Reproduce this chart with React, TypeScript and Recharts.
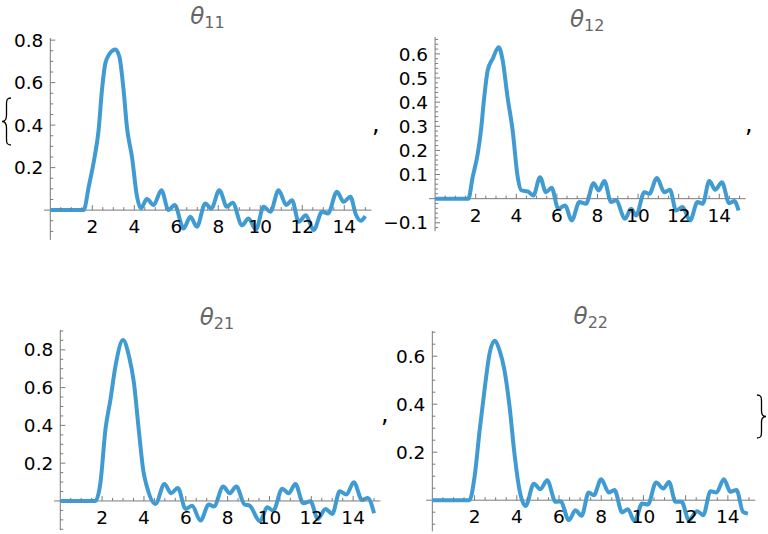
import React from 'react';
import { LineChart, Line, XAxis, YAxis, ReferenceLine } from 'recharts';

// ---------- data ----------
const t11 = [0, 1.0, 1.59, 1.83, 2.11, 2.3, 2.46, 2.62, 2.81, 3.1, 3.29, 3.49, 3.65, 3.89, 4.13, 4.31, 4.6, 4.92, 5.29, 5.63, 5.92, 6.35, 6.67, 6.98, 7.38, 7.67, 8.05, 8.41, 8.68, 9.13, 9.44, 9.79, 10.16, 10.48, 10.87, 11.24, 11.51, 11.83, 12.17, 12.54, 12.94, 13.22, 13.65, 13.97, 14.29, 14.55, 14.78, 15.0];
const v11 = [0, 0, 0, 0.11, 0.25, 0.376, 0.565, 0.69, 0.734, 0.756, 0.722, 0.565, 0.39, 0.25, 0.063, 0.008, 0.052, 0.024, 0.094, 0.0, 0.024, -0.086, -0.031, -0.078, 0.031, 0.008, 0.094, 0.016, 0.035, -0.071, -0.039, -0.091, 0.016, -0.008, 0.094, 0.024, 0.047, -0.055, -0.024, -0.094, -0.008, -0.016, 0.086, 0.039, 0.063, -0.02, -0.05, -0.028];

const t12 = [0, 1.0, 1.64, 1.85, 2.1, 2.26, 2.42, 2.59, 2.84, 3.13, 3.33, 3.57, 3.82, 4.07, 4.25, 4.56, 4.84, 5.17, 5.46, 5.74, 6.07, 6.4, 6.73, 7.11, 7.43, 7.81, 8.06, 8.34, 8.67, 8.91, 9.36, 9.65, 9.9, 10.31, 10.55, 10.93, 11.29, 11.57, 11.87, 12.19, 12.56, 12.93, 13.18, 13.51, 13.8, 14.13, 14.49, 14.74, 14.95];
const v12 = [0, 0, 0, 0.089, 0.186, 0.283, 0.42, 0.531, 0.58, 0.628, 0.573, 0.42, 0.283, 0.089, 0.034, 0.03, 0.013, 0.089, 0.027, 0.045, -0.042, -0.028, -0.09, -0.014, -0.021, 0.064, 0.034, 0.073, -0.014, -0.007, -0.083, -0.042, -0.07, 0.027, 0.02, 0.086, 0.027, 0.037, -0.049, -0.035, -0.09, -0.014, -0.021, 0.073, 0.037, 0.068, -0.019, -0.01, -0.049];

const t21 = [0, 1.0, 1.68, 1.92, 2.16, 2.4, 2.64, 3.0, 3.28, 3.52, 3.75, 3.97, 4.15, 4.55, 4.98, 5.3, 5.62, 5.99, 6.3, 6.7, 7.1, 7.34, 7.79, 8.1, 8.42, 8.81, 9.05, 9.54, 9.89, 10.18, 10.61, 10.92, 11.24, 11.61, 11.96, 12.31, 12.68, 13.0, 13.36, 13.68, 14.03, 14.43, 14.7, 15.0];
const v21 = [0, 0, 0, 0.097, 0.379, 0.538, 0.715, 0.852, 0.768, 0.626, 0.379, 0.16, 0.072, -0.016, 0.09, 0.041, 0.069, -0.042, -0.025, -0.104, -0.019, -0.03, 0.076, 0.041, 0.076, -0.019, -0.025, -0.108, -0.034, -0.051, 0.064, 0.041, 0.09, -0.012, -0.002, -0.095, -0.042, -0.069, 0.051, 0.034, 0.099, 0.005, 0.016, -0.065];

const t22 = [0, 1.0, 1.76, 2.0, 2.24, 2.47, 2.71, 2.95, 3.18, 3.42, 3.66, 3.89, 4.13, 4.42, 4.81, 5.12, 5.44, 5.84, 6.07, 6.47, 6.78, 7.07, 7.41, 7.65, 8.0, 8.36, 8.63, 8.99, 9.26, 9.58, 9.94, 10.21, 10.6, 10.94, 11.21, 11.52, 11.81, 12.15, 12.55, 12.83, 13.18, 13.46, 13.81, 14.12, 14.41, 14.72, 14.95];
const v22 = [0, 0, 0, 0.097, 0.29, 0.458, 0.611, 0.664, 0.625, 0.54, 0.389, 0.194, 0.042, -0.024, 0.069, 0.046, 0.083, -0.007, -0.004, -0.083, -0.042, -0.065, 0.032, 0.021, 0.0875, 0.032, 0.042, -0.051, -0.0375, -0.0875, -0.014, -0.018, 0.074, 0.049, 0.076, -0.007, -0.007, -0.083, -0.046, -0.0625, 0.0375, 0.032, 0.0875, 0.035, 0.042, -0.049, -0.056];

const xMajorTicks = [2, 4, 6, 8, 10, 12, 14];
const yMajor11 = [0.2, 0.4, 0.6, 0.8];
const yMajor12 = [-0.1, 0.1, 0.2, 0.3, 0.4, 0.5, 0.6];
const yMajor21 = [0.2, 0.4, 0.6, 0.8];
const yMajor22 = [0.2, 0.4, 0.6];
const titleSubs = ['11', '12', '21', '22'];

// ---------- style ----------
const LINE = '#3f9bd2';
const AXIS = '#7a7a7a';
const FONT = 'DejaVu Sans';
const FS = 18.5;
const XMIN = -0.3;
const XMAX = 15.3;
const ML = 60, MR = 12, MT = 12, MB = 32;

type Spec = {
  t: number[]; v: number[];
  x0: number; px: number; y0: number; py: number;
  ymin: number; ymax: number;
  yMajor: number[]; yMinorStep: number;
  sub: string; titleY: number;
};

const specs: Spec[] = [
  { t: t11, v: v11, x0: 50, px: 21, y0: 210, py: 212.5, ymin: -0.14, ymax: 0.81, yMajor: yMajor11, yMinorStep: 0.05, sub: titleSubs[0], titleY: 24 },
  { t: t12, v: v12, x0: 435, px: 20.3, y0: 198.2, py: 241.3, ymin: -0.135, ymax: 0.67, yMajor: yMajor12, yMinorStep: 0.02, sub: titleSubs[1], titleY: 27 },
  { t: t21, v: v21, x0: 60, px: 20.92, y0: 501.4, py: 188.9, ymin: -0.155, ymax: 0.905, yMajor: yMajor21, yMinorStep: 0.05, sub: titleSubs[2], titleY: 325 },
  { t: t22, v: v22, x0: 432.5, px: 21.11, y0: 500.6, py: 240, ymin: -0.13, ymax: 0.705, yMajor: yMajor22, yMinorStep: 0.05, sub: titleSubs[3], titleY: 324 },
];

const isIn = (arr: number[], val: number) => arr.some((a) => Math.abs(a - val) < 1e-6);
const fmt = (val: number) => (val < 0 ? '\u2212' : '') + Math.abs(val).toFixed(1);

function Panel({ s }: { s: Spec }) {
  const plotW = (XMAX - XMIN) * s.px;
  const plotH = (s.ymax - s.ymin) * s.py;
  const plotLeft = s.x0 + XMIN * s.px;
  const plotTop = s.y0 - s.ymax * s.py;
  const W = plotW + ML + MR;
  const H = plotH + MT + MB;
  const zeroY = MT + s.ymax * s.py;
  const axisX = ML - XMIN * s.px;
  const data = s.t.map((tt, i) => ({ t: tt, v: s.v[i] }));

  const xTicks: number[] = [];
  for (let k = 1; k <= 30; k++) xTicks.push(k * 0.5);
  const yTicks: number[] = [];
  const n0 = Math.ceil(s.ymin / s.yMinorStep - 1e-6);
  const n1 = Math.floor(s.ymax / s.yMinorStep + 1e-6);
  for (let k = n0; k <= n1; k++) {
    const val = Math.round(k * s.yMinorStep * 1000) / 1000;
    if (Math.abs(val) > 1e-9) yTicks.push(val);
  }
  s.yMajor.forEach((m) => { if (!isIn(yTicks, m)) yTicks.push(m); });

  const XTick = (p: any) => {
    const val = p.payload.value;
    const major = isIn(xMajorTicks, val);
    const x = p.x;
    return (
      <g>
        <line x1={x} x2={x} y1={zeroY} y2={zeroY - (major ? 5 : 3)} stroke={AXIS} strokeWidth={1} />
        {major && (
          <text x={x} y={zeroY + 23} textAnchor="middle" fontFamily={FONT} fontSize={FS} fill="#000">
            {String(val)}
          </text>
        )}
      </g>
    );
  };
  const YTick = (p: any) => {
    const val = p.payload.value;
    const major = isIn(s.yMajor, val);
    const y = p.y;
    return (
      <g>
        <line x1={axisX} x2={axisX + (major ? 5 : 3)} y1={y} y2={y} stroke={AXIS} strokeWidth={1} />
        {major && (
          <text x={axisX - 7} y={y} dy="0.36em" textAnchor="end" fontFamily={FONT} fontSize={FS} fill="#000">
            {fmt(val)}
          </text>
        )}
      </g>
    );
  };

  return (
    <div style={{ position: 'absolute', left: plotLeft - ML, top: plotTop - MT }}>
      <LineChart width={W} height={H} data={data} margin={{ top: MT, right: MR, bottom: MB - 1, left: ML - 1 }}>
        <XAxis dataKey="t" type="number" domain={[XMIN, XMAX]} ticks={xTicks} interval={0} height={1}
          axisLine={false} tickLine={false} tick={XTick} allowDataOverflow />
        <YAxis type="number" domain={[s.ymin, s.ymax]} ticks={yTicks} interval={0} width={1}
          axisLine={false} tickLine={false} tick={YTick} allowDataOverflow />
        <ReferenceLine y={0} stroke={AXIS} strokeWidth={1} />
        <ReferenceLine x={0} stroke={AXIS} strokeWidth={1} />
        <Line type="monotone" dataKey="v" stroke={LINE} strokeWidth={4} dot={false} isAnimationActive={false} />
      </LineChart>
    </div>
  );
}

export default function App() {
  return (
    <div style={{ position: 'absolute', left: 0, top: 0, width: 768, height: 534, background: '#fff', overflow: 'hidden' }}>
      {specs.map((s, i) => <Panel key={i} s={s} />)}
      <svg width={768} height={534} style={{ position: 'absolute', left: 0, top: 0, pointerEvents: 'none' }}>
        {specs.map((s, i) => {
          const cx = s.x0 + ((XMIN + XMAX) / 2) * s.px;
          return (
            <text key={i} x={cx} y={s.titleY} textAnchor="middle" fontFamily={FONT} fill="#666">
              <tspan fontSize={23} fontStyle="italic">θ</tspan>
              <tspan fontSize={16} dy={4}>{s.sub}</tspan>
            </text>
          );
        })}
        <path d="M 11 98 C 7 98, 6.5 100, 6.5 104 L 6.5 115 C 6.5 119, 5 121.5, 2 121.5 C 5 121.5, 6.5 124, 6.5 128 L 6.5 139 C 6.5 143, 7 145, 11 145"
          fill="none" stroke="#000" strokeWidth={1.3} />
        <path d="M 757 395 C 761 395, 761.5 397, 761.5 401 L 761.5 411 C 761.5 414.5, 763 416.5, 766 416.5 C 763 416.5, 761.5 418.5, 761.5 422 L 761.5 432 C 761.5 436, 761 438, 757 438"
          fill="none" stroke="#000" strokeWidth={1.3} />
        <text x={372} y={132} fontFamily={FONT} fontSize={24} fill="#000">,</text>
        <text x={745} y={132} fontFamily={FONT} fontSize={24} fill="#000">,</text>
        <text x={381} y={422} fontFamily={FONT} fontSize={24} fill="#000">,</text>
      </svg>
    </div>
  );
}
